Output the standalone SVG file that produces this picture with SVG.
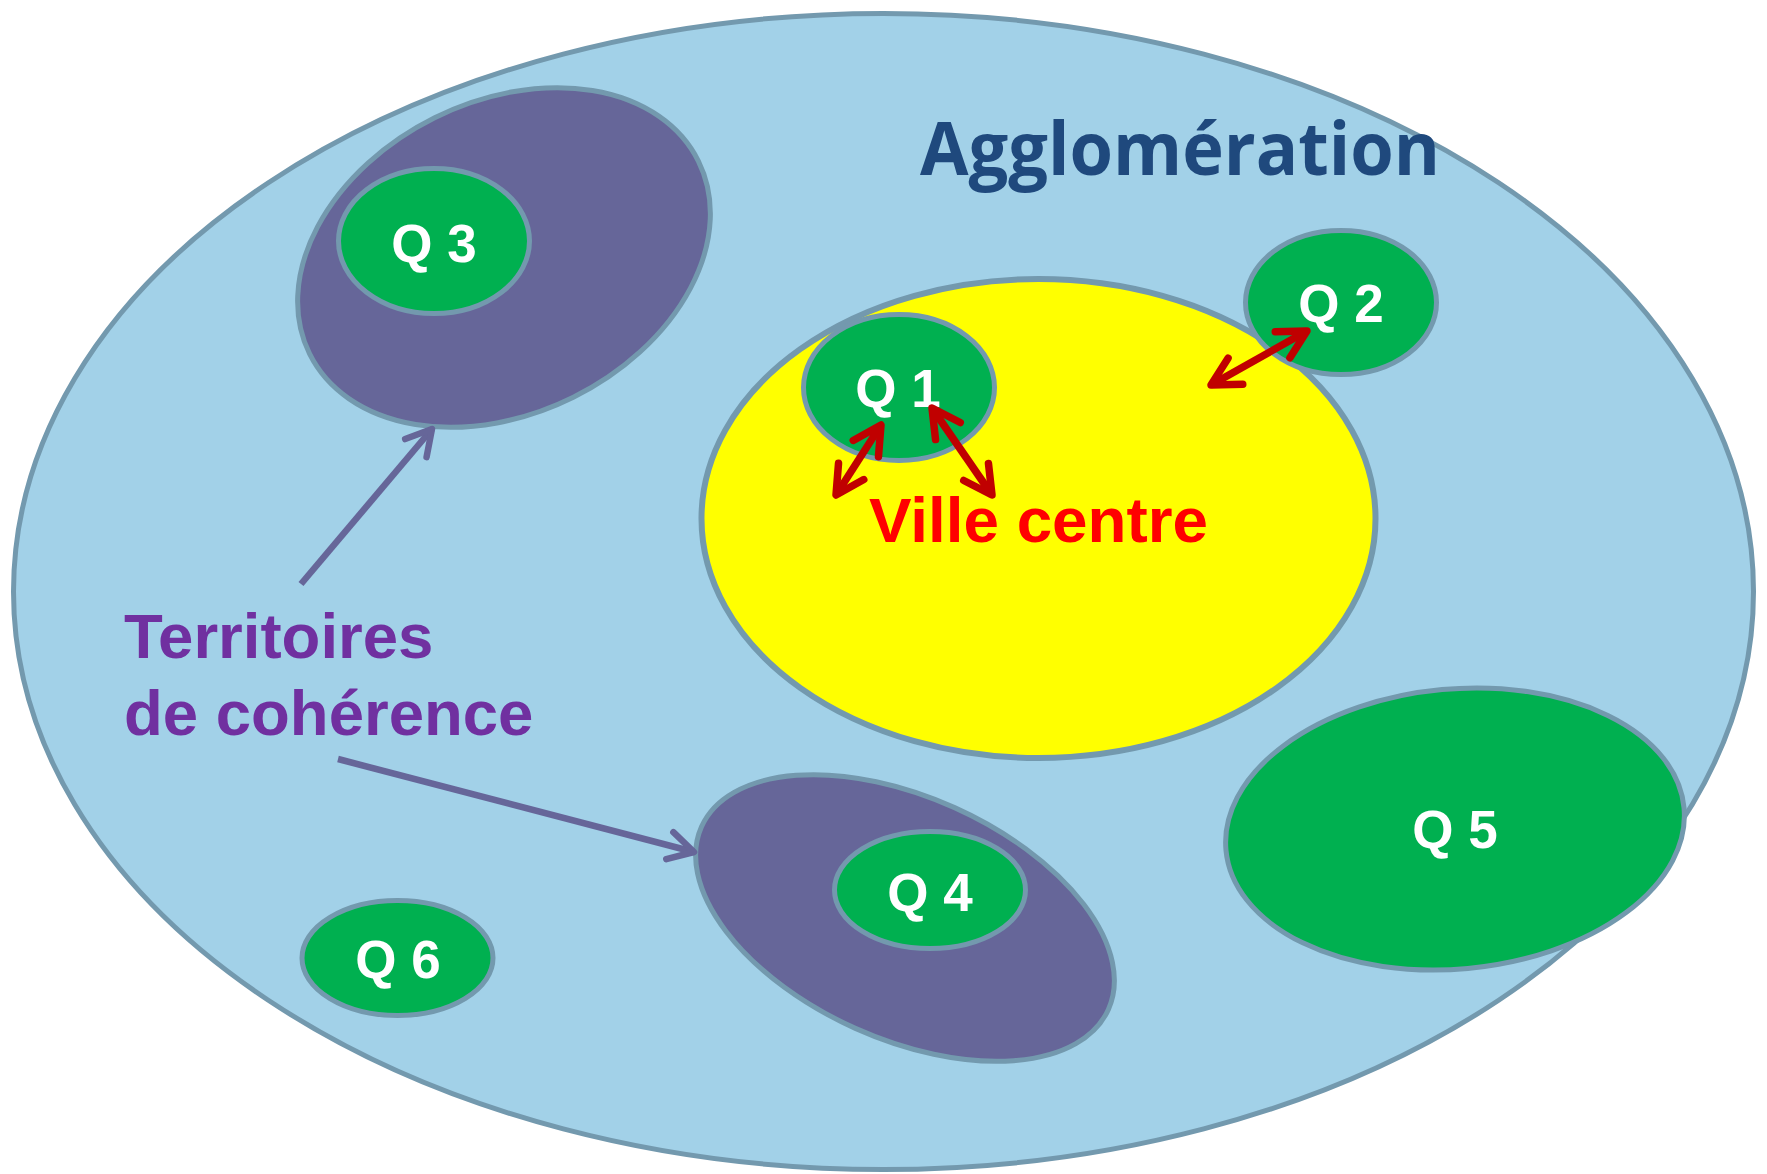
<svg xmlns="http://www.w3.org/2000/svg" width="1767" height="1174" viewBox="0 0 1767 1174">
<style>
.edge{stroke:#7399AE;stroke-width:5}
.green{fill:#00B050}
.terr{fill:#666699}
.q{font-family:"Liberation Sans",Arial,sans-serif;font-weight:bold;font-size:53px;fill:#FFFFFF;text-anchor:middle}
.red{stroke:#C00000;stroke-width:7.5;fill:none}
.pur{stroke:#666699;stroke-width:6.5;fill:none}
</style>
<defs>
<marker id="hr" viewBox="-40 -22 50 44" refX="0" refY="0" markerWidth="50" markerHeight="44" markerUnits="userSpaceOnUse" orient="auto-start-reverse">
<path d="M-28,-15 L0,0 L-28,15" fill="none" stroke="#C00000" stroke-width="7.5" stroke-linecap="round" stroke-linejoin="round"/>
</marker>
<marker id="hp" viewBox="-40 -22 50 44" refX="0" refY="0" markerWidth="50" markerHeight="44" markerUnits="userSpaceOnUse" orient="auto">
<path d="M-25,-14 L0,0 L-25,14" fill="none" stroke="#666699" stroke-width="6.5" stroke-linecap="round" stroke-linejoin="round"/>
</marker>
</defs>
<rect width="1767" height="1174" fill="#FFFFFF"/>
<g id="agglomeration">
<ellipse cx="883.5" cy="591.5" rx="870" ry="578" fill="#A2D1E8" class="edge"/>
<text x="920" y="175" font-family="'Open Sans','Liberation Sans',sans-serif" font-weight="bold" font-size="73" fill="#1F497D" textLength="520" lengthAdjust="spacingAndGlyphs">Agglomération</text>
</g>
<g id="territoire-q3">
<ellipse cx="504" cy="257.5" rx="217" ry="156" transform="rotate(-26.4 504 257.5)" class="terr edge"/>
</g>
<g id="q3">
<ellipse cx="434" cy="241" rx="95.5" ry="72.5" class="green edge"/>
<text x="434" y="262" class="q">Q 3</text>
</g>
<g id="territoire-q4">
<ellipse cx="905" cy="918" rx="223" ry="121" transform="rotate(24.2 905 918)" class="terr edge"/>
</g>
<g id="q4">
<ellipse cx="930" cy="890" rx="95.5" ry="58.5" class="green edge"/>
<text x="930" y="911" class="q">Q 4</text>
</g>
<g id="ville-centre">
<ellipse cx="1038.5" cy="518.5" rx="337" ry="239.5" fill="#FFFF00" stroke="#7399AE" stroke-width="6"/>
<text x="869" y="542" font-family="'Liberation Sans',Arial,sans-serif" font-weight="bold" font-size="63.5" fill="#FF0000" textLength="339" lengthAdjust="spacingAndGlyphs">Ville centre</text>
</g>
<g id="q1">
<ellipse cx="899" cy="387.5" rx="95.5" ry="73" class="green edge"/>
<text x="898" y="407" class="q">Q 1</text>
</g>
<g id="q2">
<ellipse cx="1341" cy="302.5" rx="95.5" ry="72" class="green edge"/>
<text x="1341" y="322" class="q">Q 2</text>
</g>
<g id="q5">
<ellipse cx="1455" cy="829" rx="230" ry="140" transform="rotate(-5.3 1455 829)" class="green edge"/>
<text x="1455" y="848" class="q">Q 5</text>
</g>
<g id="q6">
<ellipse cx="397.5" cy="958" rx="95.5" ry="57.5" class="green edge"/>
<text x="398" y="978" class="q">Q 6</text>
</g>
<g id="territoires-label">
<text font-family="'Liberation Sans',Arial,sans-serif" font-weight="bold" font-size="63.5" fill="#7030A0">
<tspan x="124" y="658">Territoires</tspan>
<tspan x="124" y="735">de cohérence</tspan>
</text>
</g>
<g id="connectors">
<line x1="881" y1="425" x2="836" y2="495" class="red" marker-start="url(#hr)" marker-end="url(#hr)"/>
<line x1="932" y1="408" x2="992" y2="495" class="red" marker-start="url(#hr)" marker-end="url(#hr)"/>
<line x1="1307" y1="331" x2="1211" y2="385" class="red" marker-start="url(#hr)" marker-end="url(#hr)"/>
<line x1="301" y1="584" x2="432" y2="429" class="pur" marker-end="url(#hp)"/>
<line x1="338" y1="759" x2="694" y2="852" class="pur" marker-end="url(#hp)"/>
</g>
</svg>
